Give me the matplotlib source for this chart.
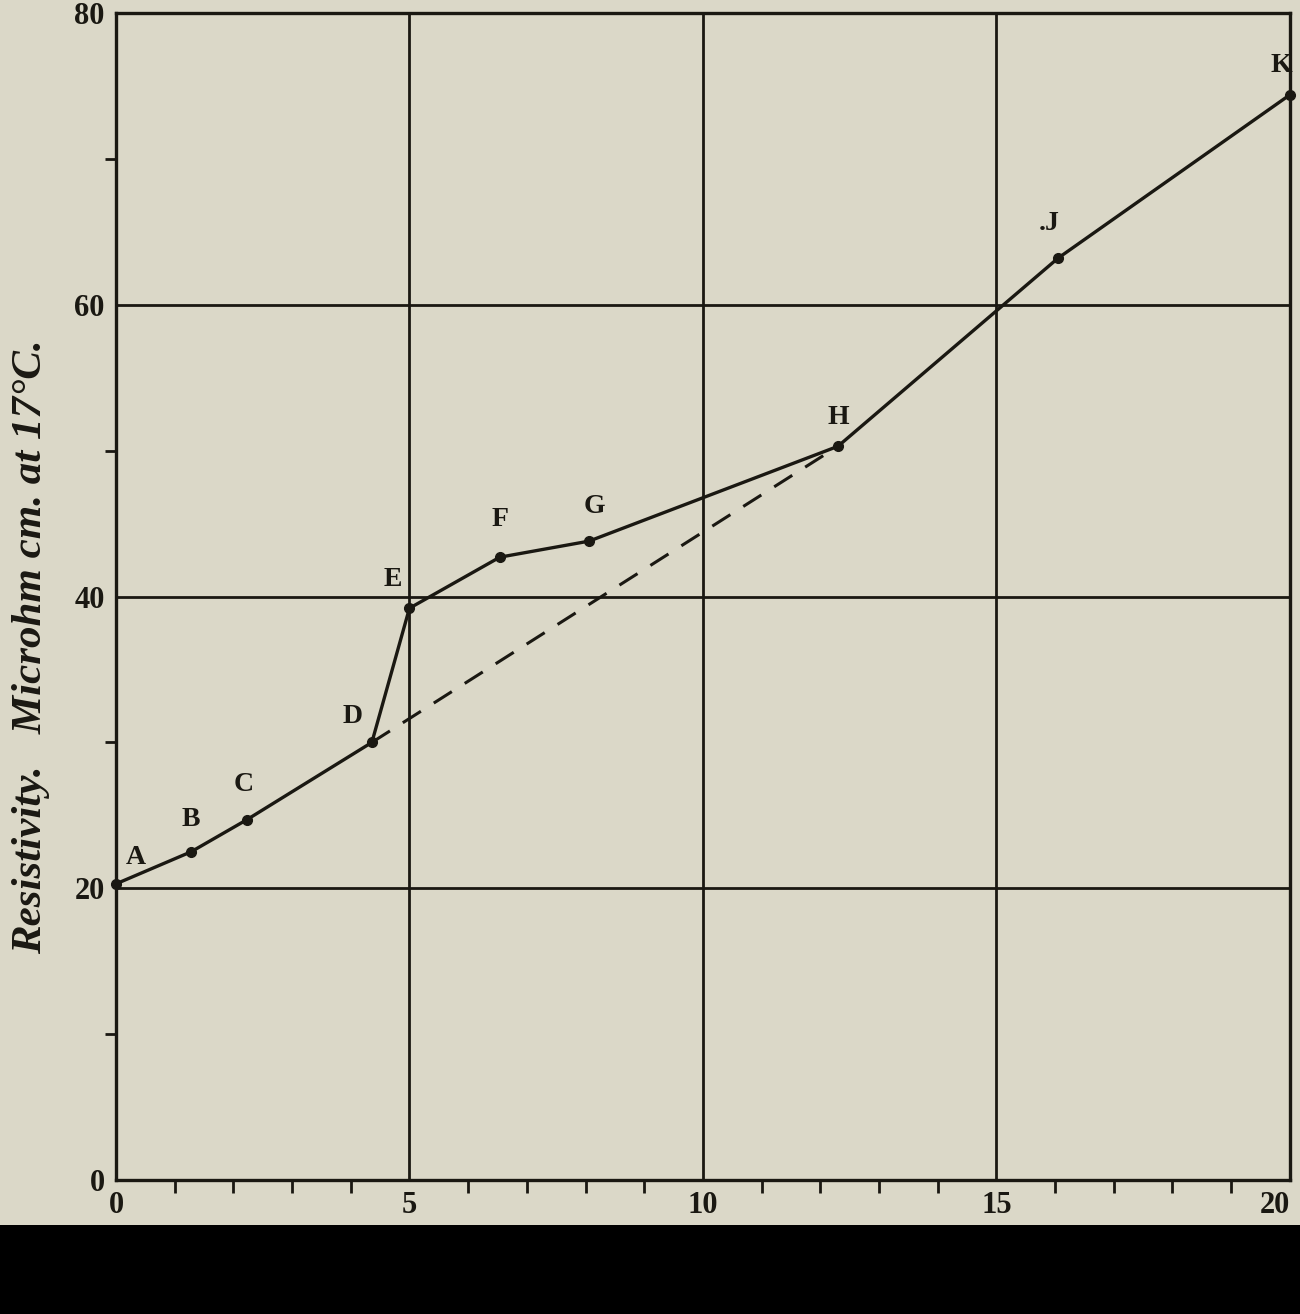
import matplotlib.pyplot as plt
import matplotlib.patches as mpatches

# readings (x, resistivity) of the lettered points
names = ['A', 'B', 'C', 'D', 'E', 'F', 'G', 'H', '.J', 'K']
xs = [0.0, 1.28, 2.23, 4.36, 5.0, 6.54, 8.06, 12.3, 16.05, 20.0]
ys = [20.3, 22.5, 24.7, 30.0, 39.2, 42.7, 43.8, 50.3, 63.2, 74.4]

# dashed line D -> H
dash_x = [4.36, 12.3]
dash_y = [30.0, 50.3]

x_ticks = [0, 5, 10, 15, 20]
x_labels = ['0', '5', '10', '15', '20']
y_ticks = [0, 20, 40, 60, 80]
y_labels = ['0', '20', '40', '60', '80']

bg = '#dbd8c8'
ink = '#1a1812'
serif = ['Liberation Serif', 'DejaVu Serif']

fig = plt.figure(figsize=(13, 13.14), dpi=100, facecolor=bg)
ax = fig.add_axes([0.0892, 0.102, 0.903, 0.888], facecolor=bg)

# black strip along the bottom
fig.patches.append(mpatches.Rectangle((0, 0), 1, 0.0677, transform=fig.transFigure,
                                      facecolor='black', edgecolor='none', zorder=0))

for v in [5, 10, 15]:
    ax.axvline(v, color=ink, lw=2.0, zorder=1)
for v in [20, 40, 60]:
    ax.axhline(v, color=ink, lw=2.0, zorder=1)

ax.plot(dash_x, dash_y, color=ink, lw=2.2, ls=(0, (7, 5)), zorder=2)
ax.plot(xs, ys, color=ink, lw=2.4, zorder=3)
ax.plot(xs, ys, 'o', color=ink, ms=7, zorder=4, clip_on=False)

# letter offsets in points
offs = {'A': (14, 10), 'B': (0, 14), 'C': (-2, 16), 'D': (-14, 10), 'E': (-12, 12),
        'F': (0, 18), 'G': (4, 16), 'H': (0, 12), '.J': (-6, 16), 'K': (-6, 12)}
for n, x, y in zip(names, xs, ys):
    ax.annotate(n, (x, y), xytext=offs[n], textcoords='offset points',
                ha='center', va='bottom', fontsize=20, fontweight='bold',
                family=serif, color=ink)

ax.set_xlim(0, 20)
ax.set_ylim(0, 80)
ax.set_xticks(x_ticks)
ax.set_xticklabels(x_labels)
ax.set_yticks(y_ticks)
ax.set_yticklabels(y_labels)
ax.set_xticks(range(0, 21), minor=True)
ax.set_yticks([10, 30, 50, 70], minor=True)
ax.tick_params(axis='both', which='major', length=0, pad=8, labelsize=22, labelcolor=ink)
ax.tick_params(axis='x', which='minor', direction='out', length=9, width=2, color=ink)
ax.tick_params(axis='y', which='minor', direction='out', length=8, width=2, color=ink)
for lab in ax.get_xticklabels() + ax.get_yticklabels():
    lab.set_fontweight('bold')
    lab.set_family(serif)
ax.get_xticklabels()[-1].set_horizontalalignment('right')

for s in ax.spines.values():
    s.set_color(ink)
    s.set_linewidth(2.4)

fig.text(0.024, 0.508, 'Resistivity.   Microhm cm. at 17°C.', rotation=90,
         ha='center', va='center', fontsize=31, fontweight='bold', fontstyle='italic',
         family=serif, color=ink)

fig.savefig('out.png', dpi=100, facecolor=bg)
